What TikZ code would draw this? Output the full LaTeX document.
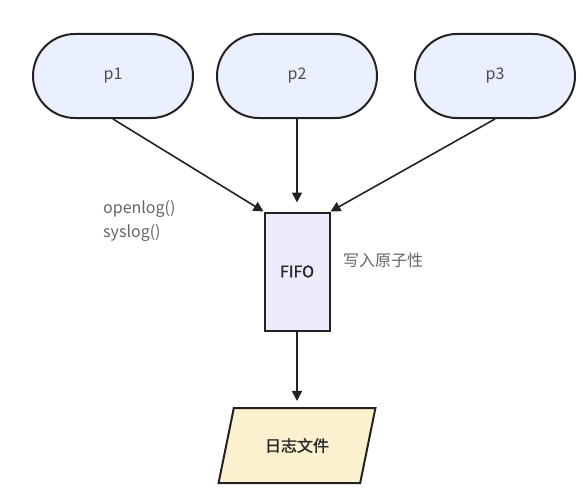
\documentclass[tikz,border=0pt]{standalone}
\usepackage{fontspec}
\setmainfont{Noto Sans CJK SC}
\newfontfamily\boxfont[FakeBold=1.2]{Noto Sans CJK SC}
\usetikzlibrary{arrows.meta, shapes.geometric}

\definecolor{procfill}{HTML}{EAF0FE}
\definecolor{fifofill}{HTML}{EEEBFD}
\definecolor{filefill}{HTML}{FCF1CF}
\definecolor{edgeline}{HTML}{222222}
\definecolor{labeltext}{HTML}{666666}

\begin{document}
\begin{tikzpicture}[x=1pt, y=1pt,
    proc/.style={draw=edgeline, fill=procfill, line width=2pt,
        minimum width=160pt, minimum height=84pt, rounded corners=41.9pt,
        text=black!70, font=\fontsize{16}{18}\selectfont},
    queue/.style={draw=edgeline, fill=fifofill, line width=2pt,
        minimum width=65pt, minimum height=118pt,
        text=black!85, font=\boxfont\fontsize{16}{18}\selectfont},
    store/.style={draw=edgeline, fill=filefill, line width=2pt,
        trapezium, trapezium left angle=62.5, trapezium right angle=117.5,
        trapezium stretches=true, inner sep=0pt,
        minimum width=158pt, minimum height=75pt,
        text=black!85, font=\boxfont\fontsize{16}{18}\selectfont},
    flow/.style={draw=edgeline, line width=1.6pt,
        -{Triangle[length=10pt, width=10pt]}},
    note/.style={text=labeltext, font=\fontsize{16}{24}\selectfont,
        align=left, anchor=west, inner sep=0pt}]
    \useasboundingbox (0,0) rectangle (583,-503);

    \node[proc] (p1) at (113,-76) {p1};
    \node[proc] (p2) at (297,-76) {p2};
    \node[proc] (p3) at (495,-76) {p3};
    \node[queue] (fifo) at (297,-271.5) {FIFO};
    \node[store] (logfile) at (297,-445.5) {日志文件};

    \draw[flow] (p1.south) -- (fifo.north west);
    \draw[flow, shorten >=9pt] (p2.south) -- (fifo.north);
    \draw[flow] (p3.south) -- (fifo.north east);
    \draw[flow, shorten >=6pt] (fifo.south) -- (logfile.north);

    \node[note] (calls) at (103,-220.5) {openlog()\\syslog()};
    \node[note] (atomic) at (343,-260) {写入原子性};
\end{tikzpicture}
\end{document}
